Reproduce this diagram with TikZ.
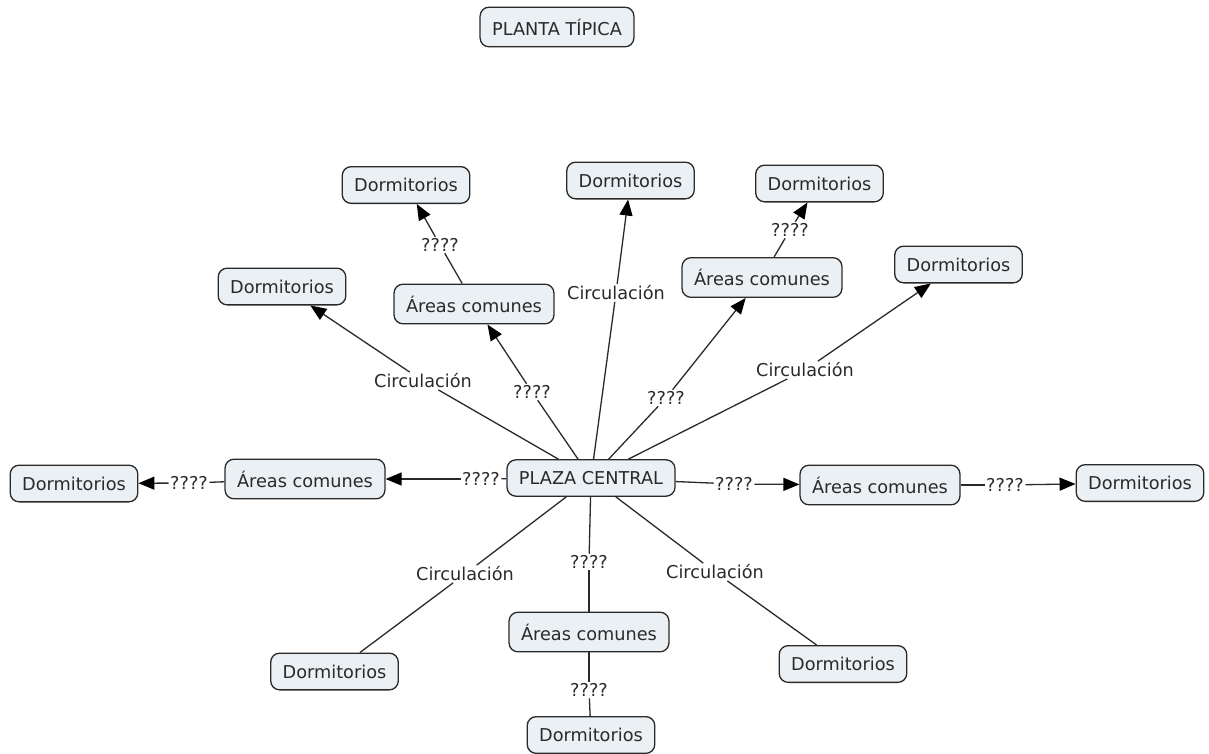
\documentclass[tikz,border=0pt]{standalone}
\usepackage{fontspec}
\setmainfont{DejaVu Sans}
\usetikzlibrary{arrows.meta}
\definecolor{nodefill}{HTML}{EAF0F3}
\definecolor{ink}{HTML}{2A2A2A}
\begin{document}
\begin{tikzpicture}[x=1pt,y=-1pt,
  concept/.style={draw=ink, fill=nodefill, rounded corners=9pt, line width=1.3pt,
    inner xsep=12pt, inner ysep=11.5pt, text=ink, font=\fontsize{17.7}{20}\selectfont},
  lbl/.style={inner sep=1.5pt, text=ink, font=\fontsize{17.7}{20}\selectfont},
  conn/.style={draw=ink, line width=1.3pt},
  arr/.style={conn, -{Triangle[length=16pt,width=13pt,color=black]}}]
\useasboundingbox[fill=white] (0,0) rectangle (1209,753);

% concepts
\node[concept] (title) at (557,27) {PLANTA TÍPICA};
\node[concept] (pc) at (591,478) {PLAZA CENTRAL};
\node[concept] (d1) at (282,286.5) {Dormitorios};
\node[concept] (a1) at (474,304) {Áreas comunes};
\node[concept] (d2) at (406,185) {Dormitorios};
\node[concept] (d3) at (630.5,180.5) {Dormitorios};
\node[concept] (a2) at (762,277.5) {Áreas comunes};
\node[concept] (d4) at (819.5,183.5) {Dormitorios};
\node[concept] (d5) at (958.5,264.5) {Dormitorios};
\node[concept] (a3) at (305,479) {Áreas comunes};
\node[concept] (d6) at (74,483.5) {Dormitorios};
\node[concept] (a4) at (880,485) {Áreas comunes};
\node[concept] (d7) at (1140,483) {Dormitorios};
\node[concept] (a5) at (589,632) {Áreas comunes};
\node[concept] (d8) at (591,735) {Dormitorios};
\node[concept] (d9) at (334.5,671.5) {Dormitorios};
\node[concept] (d10) at (843,664) {Dormitorios};

% linking phrases
\node[lbl] (l1) at (423,381) {Circulación};
\node[lbl] (l2) at (532,392) {????};
\node[lbl] (l3) at (616,293) {Circulación};
\node[lbl] (l4) at (666,398) {????};
\node[lbl] (l5) at (805,370) {Circulación};
\node[lbl] (l6) at (481,479) {????};
\node[lbl] (l7) at (734,484) {????};
\node[lbl] (l8) at (465,574) {Circulación};
\node[lbl] (l9) at (589,562) {????};
\node[lbl] (l10) at (715,572) {Circulación};
\node[lbl] (l11) at (440,245) {????};
\node[lbl] (l12) at (790,230) {????};
\node[lbl] (l13) at (189,483) {????};
\node[lbl] (l14) at (1005,485) {????};
\node[lbl] (l15) at (589,690) {????};

% connectors
\draw[conn] (pc) -- (l1); \draw[arr] (l1) -- (d1);
\draw[conn] (pc) -- (l2); \draw[arr] (l2) -- (a1);
\draw[conn] (pc) -- (l3); \draw[arr] (l3) -- (d3);
\draw[conn] (pc) -- (l4); \draw[arr] (l4) -- (a2);
\draw[conn] (pc) -- (l5); \draw[arr] (l5) -- (d5);
\draw[conn] (pc) -- (l6); \draw[arr] (l6) -- (a3);
\draw[conn] (pc) -- (l7); \draw[arr] (l7) -- (a4);
\draw[conn] (pc) -- (l8); \draw[conn] (l8) -- (d9);
\draw[conn] (pc) -- (l9); \draw[conn] (l9) -- (a5);
\draw[conn] (pc) -- (l10); \draw[conn] (l10) -- (d10);
\draw[conn] (a1) -- (l11); \draw[arr] (l11) -- (d2);
\draw[conn] (a2) -- (l12); \draw[arr] (l12) -- (d4);
\draw[conn] (a3) -- (l13); \draw[arr] (l13) -- (d6);
\draw[conn] (a4) -- (l14); \draw[arr] (l14) -- (d7);
\draw[conn] (a5) -- (l15); \draw[conn] (l15) -- (d8);
\end{tikzpicture}
\end{document}
